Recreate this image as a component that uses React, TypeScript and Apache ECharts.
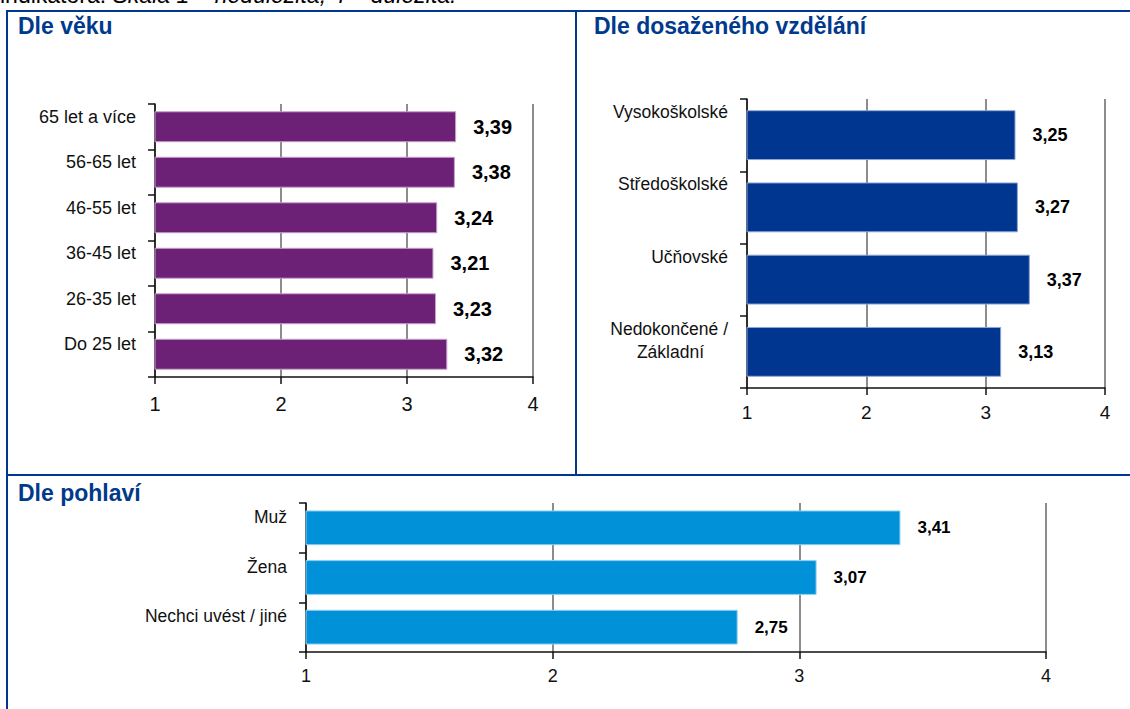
import React, { useEffect, useRef } from 'react';
import * as echarts from 'echarts';

const ageCategories = ['65 let a více', '56-65 let', '46-55 let', '36-45 let', '26-35 let', 'Do 25 let'];
const ageValues = [3.39, 3.38, 3.24, 3.21, 3.23, 3.32];
const eduCategories = ['Vysokoškolské', 'Středoškolské', 'Učňovské', 'Nedokončené / Základní'];
const eduValues = [3.25, 3.27, 3.37, 3.13];
const sexCategories = ['Muž', 'Žena', 'Nechci uvést / jiné'];
const sexValues = [3.41, 3.07, 2.75];
const scaleMin = 1;
const scaleMax = 4;
const panelTitles = ['Dle věku', 'Dle dosaženého vzdělání', 'Dle pohlaví'];
const noteLead = 'indikátora: ';
const noteScale = 'Škála 1 – nedůležitá, 4 – důležitá.';

const FONT = "'Liberation Sans', Arial, sans-serif";
const FRAME = '#00388f';
const TITLE = '#003a8c';

const fmt = (p: any) => Number(p.value).toFixed(2).replace('.', ',');

function xAxisCfg(gridIndex: number, fontSize: number, margin: number) {
  return {
    type: 'value',
    gridIndex,
    min: scaleMin,
    max: scaleMax,
    interval: 1,
    axisLine: { show: true, lineStyle: { color: '#111', width: 1.5 } },
    axisTick: { show: true, length: 7, lineStyle: { color: '#111', width: 1.5 } },
    splitLine: { show: true, lineStyle: { color: '#8c8c8c', width: 2 } },
    axisLabel: { fontSize, color: '#111', margin, fontFamily: FONT },
  };
}

function yAxisCfg(gridIndex: number, data: string[], axisLabel: any) {
  return {
    type: 'category',
    gridIndex,
    data,
    inverse: true,
    axisLine: { show: true, lineStyle: { color: '#111', width: 1.5 } },
    axisTick: { show: true, length: 7, lineStyle: { color: '#111', width: 1.5 } },
    splitLine: { show: false },
    axisLabel: { color: '#111', fontFamily: FONT, margin: 19, ...axisLabel },
  };
}

function barSeries(i: number, data: number[], color: string, border: string, gap: string, fontSize: number) {
  return {
    type: 'bar',
    xAxisIndex: i,
    yAxisIndex: i,
    data,
    barCategoryGap: gap,
    itemStyle: { color, borderColor: border, borderWidth: 1 },
    label: {
      show: true,
      position: 'right',
      distance: 17,
      formatter: fmt,
      fontWeight: 'bold',
      fontSize,
      color: '#000',
      fontFamily: FONT,
    },
  };
}

export default function App() {
  const ref = useRef<HTMLDivElement>(null);
  useEffect(() => {
    if (!ref.current) return;
    const chart = echarts.init(ref.current, undefined, { renderer: 'svg' });
    const line = (x1: number, y1: number, x2: number, y2: number) => ({
      type: 'line',
      shape: { x1, y1, x2, y2 },
      style: { stroke: FRAME, lineWidth: 2 },
      z: 10,
    });
    const title = (text: string, x: number, y: number) => ({
      type: 'text',
      x,
      y,
      style: { text, fill: TITLE, font: `bold 23px ${FONT}`, verticalAlign: 'middle', align: 'left' },
      z: 10,
    });
    chart.setOption({
      animation: false,
      textStyle: { fontFamily: FONT },
      grid: [
        { left: 155, top: 104, width: 378, height: 273, containLabel: false },
        { left: 747, top: 99, width: 358, height: 289, containLabel: false },
        { left: 306, top: 503, width: 740, height: 149, containLabel: false },
      ],
      xAxis: [xAxisCfg(0, 20, 17), xAxisCfg(1, 19, 15), xAxisCfg(2, 18, 15)],
      yAxis: [
        yAxisCfg(0, ageCategories, {
          fontSize: 18,
          lineHeight: 20,
          formatter: (v: string) => v + '\n',
        }),
        yAxisCfg(1, eduCategories, {
          fontSize: 17.5,
          lineHeight: 23,
          formatter: (v: string) => {
            const parts = v.split(' / ');
            if (parts.length > 1) return parts[0] + ' /\n{c|' + parts[1] + '}\n';
            return v + '\n\n';
          },
          rich: {
            c: { padding: [0, 24, 0, 0], lineHeight: 23, fontSize: 17.5, color: '#111', fontFamily: FONT },
          },
        }),
        yAxisCfg(2, sexCategories, {
          fontSize: 17.5,
          lineHeight: 22,
          formatter: (v: string) => v + '\n',
        }),
      ],
      series: [
        barSeries(0, ageValues, '#6c2076', '#c3a3cb', '32%', 20),
        barSeries(1, eduValues, '#003590', '#8fa6d6', '31%', 18),
        barSeries(2, sexValues, '#0091d9', '#8fd0f0', '30%', 17),
      ],
      graphic: [
        {
          type: 'text',
          x: 0,
          y: -5,
          style: {
            text: '{n|' + noteLead + '}{i|' + noteScale + '}',
            verticalAlign: 'middle',
            rich: {
              n: { font: `23px ${FONT}`, fill: '#000' },
              i: { font: `italic 23px ${FONT}`, fill: '#000' },
            },
          },
        },
        line(6, 11, 1130, 11),
        line(7, 10, 7, 709),
        line(576, 10, 576, 475),
        line(6, 475, 1130, 475),
        title(panelTitles[0], 18, 26),
        title(panelTitles[1], 594, 26),
        title(panelTitles[2], 18, 493),
      ],
    });
    return () => chart.dispose();
  }, []);
  return (
    <div
      ref={ref}
      style={{ position: 'fixed', left: 0, top: 0, width: 1130, height: 709, background: '#fff' }}
    />
  );
}
